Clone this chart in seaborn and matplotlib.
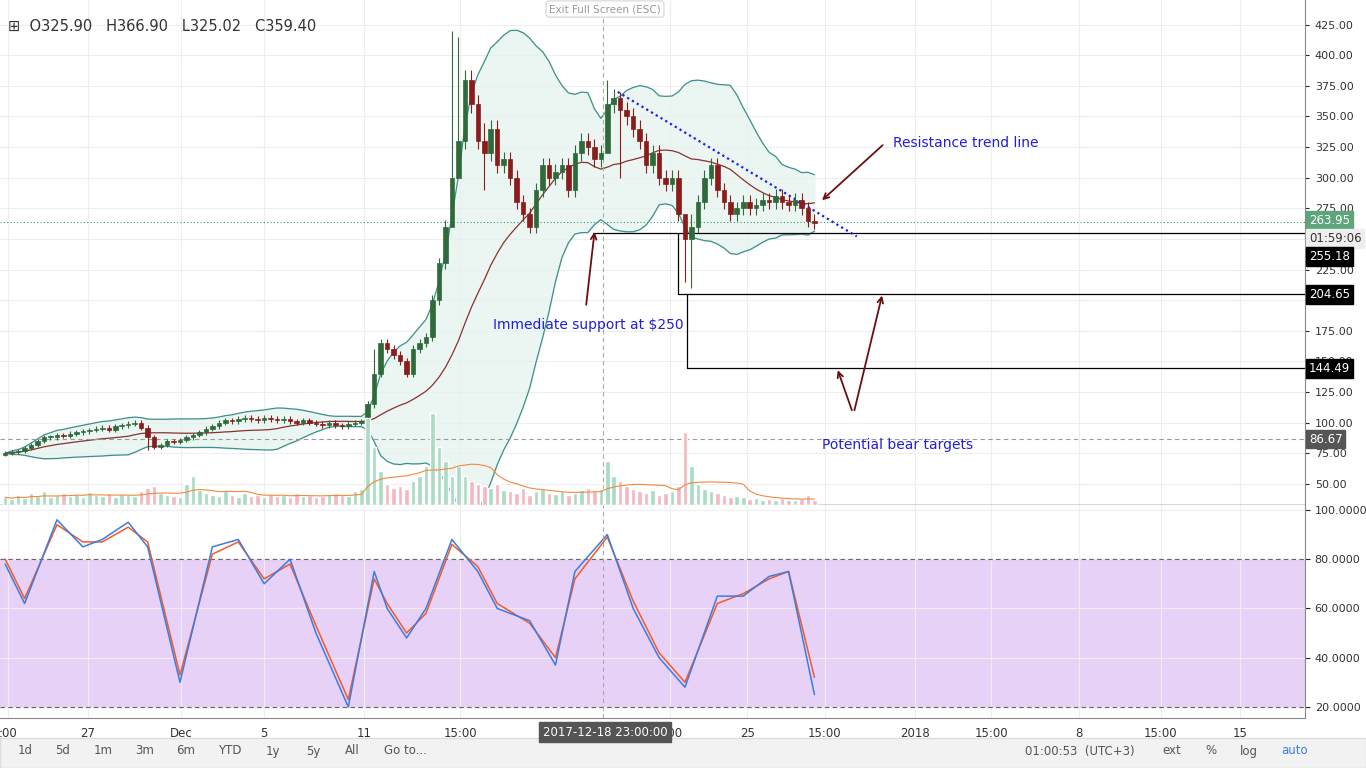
import matplotlib
matplotlib.use("Agg")
import matplotlib.pyplot as plt
import numpy as np
import pandas as pd
import seaborn as sns

sns.set_style("white")
plt.rcParams['font.family'] = ['DejaVu Sans']

# closing prices, one per 4h candle
closes = [75, 76, 77, 79, 82, 85, 88, 88, 90, 89, 91, 92, 93, 94, 95, 96, 94, 97, 98, 99, 100, 96, 88,
          80, 82, 85, 84, 86,
          88, 90, 92, 95, 97, 100, 102, 101, 103, 104, 103, 102, 104, 103, 102, 103, 101, 100, 102, 100, 99, 98, 100,
          98, 97, 99, 100, 101,
          115, 140, 165, 160, 155, 150, 140, 160, 165,
          170, 200, 230, 260, 300, 330,
          380, 360, 330, 320, 340,
          310, 315, 300, 280, 270, 260, 290, 310, 300, 305,
          310, 290, 320, 330, 325, 315, 320, 360, 365, 355,
          350, 340, 330, 310, 320, 300, 295, 300, 270, 250,
          260, 280, 300, 310, 290, 280, 270, 275,
          280, 275, 278, 282, 280, 285, 280, 278, 282, 275, 265, 263]
first_open = 74
# notable wick extremes {slot: (high, low)}
wicks = {69: (420, 290), 70: (415, 300), 74: (345, 290), 93: (380, 330), 95: (370, 300),
         105: (265, 215), 106: (270, 210), 57: (160, 112), 22: (98, 78)}
volumes = [8, 6, 10, 7, 12, 9, 14, 8, 10, 12, 9, 11, 8, 13, 10, 9, 12, 8, 11, 10, 9, 14, 18,
           20, 12, 10, 9, 8,
           22, 30, 15, 12, 10, 9, 14, 10, 8, 12, 9, 10, 8, 11, 9, 10, 8, 12, 9, 10, 8, 9, 11,
           12, 10, 9, 14, 16,
           90, 60, 35, 22, 18, 20, 16, 25, 30,
           40, 95, 60, 45, 30, 40,
           30, 25, 22, 20, 18,
           22, 15, 14, 12, 18, 10, 14, 16, 12, 11,
           14, 10, 12, 15, 18, 14, 16, 45, 30, 25,
           20, 16, 14, 12, 15, 10, 12, 14, 20, 75,
           40, 22, 16, 14, 12, 10, 8, 9,
           8, 6, 7, 5, 6, 5, 7, 5, 5, 6, 10, 5]
stoch_x = [0, 3, 8, 12, 15, 19, 22, 27, 32, 36, 40, 44, 48, 53, 57, 59, 62, 65, 69, 73, 76, 81,
           85, 88, 93, 97, 101, 105, 110, 114, 118, 121, 125]
stoch_k = [78, 62, 96, 85, 88, 95, 85, 30, 85, 88, 70, 80, 50, 20, 75, 60, 48, 60, 88, 75, 60, 55,
           37, 75, 90, 60, 40, 28, 65, 65, 73, 75, 25]
stoch_d = [80, 64, 94, 87, 87, 93, 87, 33, 82, 87, 72, 78, 53, 23, 72, 62, 50, 58, 86, 77, 62, 54,
           40, 72, 89, 63, 42, 30, 62, 66, 72, 75, 32]
tick_px = [8, 88, 182, 265, 365, 462, 672, 750, 828, 918, 995, 1083, 1165, 1245]
tick_lbl = [':00', '27', 'Dec', '5', '11', '15:00', '5:00', '25', '15:00', '2018', '15:00', '8', '15:00', '15']
levels = [255.18, 204.65, 144.49]

W, H = 1366, 768
SLOT = 6.5
PLOT_W = 1305
XMAX = PLOT_W / SLOT

def px2slot(px):
    return (px - 5) / SLOT

fig = plt.figure(figsize=(W / 100, H / 100), dpi=100)
ax = fig.add_axes([0, 1 - 505 / H, PLOT_W / W, 505 / H])
ax_s = fig.add_axes([0, 1 - 718 / H, PLOT_W / W, 213 / H])
ax_v = ax.twinx()

n = len(closes)
idx = np.arange(n)
opens = [first_open] + closes[:-1]
df = pd.DataFrame({'o': opens, 'c': closes, 'v': volumes})
df['hi'] = df[['o', 'c']].max(axis=1) * 1.02
df['lo'] = df[['o', 'c']].min(axis=1) * 0.98
for k, (h, l) in wicks.items():
    df.loc[k, 'hi'] = h
    df.loc[k, 'lo'] = l

# bollinger bands + basis
mid = df['c'].rolling(20, min_periods=1).mean()
sd = df['c'].rolling(20, min_periods=1).std().fillna(0)
up, dn = mid + 2 * sd, mid - 2 * sd
ax.fill_between(idx, dn, up, color='#e3f3ef', alpha=0.7, zorder=1)
ax.plot(idx, up, color='#3d8f8a', lw=0.9, zorder=2)
ax.plot(idx, dn, color='#3d8f8a', lw=0.9, zorder=2)
ax.plot(idx, mid, color='#8b3030', lw=0.9, zorder=2)

for i, r in df.iterrows():
    col = '#2f6b3a' if r['c'] >= r['o'] else '#8a1c1c'
    ax.vlines(i, r['lo'], r['hi'], color=col, lw=0.8, zorder=3)
    b = min(r['o'], r['c'])
    ax.bar(i, max(abs(r['c'] - r['o']), 1), bottom=b, width=0.7,
           color=col, edgecolor=col, lw=0.5, zorder=4)

vcol = ['#a9dcc3' if c >= o else '#f3b7c3' for o, c in zip(opens, closes)]
ax_v.bar(idx, volumes, width=0.7, color=vcol, zorder=0)
ax_v.plot(idx, df['v'].rolling(10, min_periods=1).mean(), color='#f08a3c', lw=0.8)
ax_v.set_ylim(0, 520)
ax_v.axis('off')

ax.set_xlim(-0.8, XMAX)
ax.set_ylim(32.8, 445)
ax.yaxis.tick_right()
ax.set_yticks(np.arange(50, 426, 25))
ax.set_yticklabels([f'{v:.2f}' for v in np.arange(50, 426, 25)], fontsize=8, color='#333333')
ax.tick_params(axis='y', length=3, pad=4)
ax.set_xticks([px2slot(p) for p in tick_px])
ax.set_xticklabels([])
ax.grid(True, color='#eeeeee', lw=0.8)
ax.set_axisbelow(True)
for s in ['top', 'left', 'bottom']:
    ax.spines[s].set_visible(False)
ax.spines['right'].set_color('#888888')
ax.axhline(32.8, color='#333333', lw=1)

# reference lines
ax.axhline(263.95, color='#2e9e5e', lw=0.8, ls=(0, (1, 2)))
ax.axhline(86.67, color='#999999', lw=0.8, ls=(0, (4, 3)))
ax.plot([px2slot(595), XMAX], [levels[0]] * 2, color='black', lw=0.9)
ax.plot([px2slot(680), XMAX], [levels[1]] * 2, color='black', lw=0.9)
ax.plot([px2slot(680)] * 2, [levels[0], levels[1]], color='black', lw=0.9)
ax.plot([px2slot(690), XMAX], [levels[2]] * 2, color='black', lw=0.9)
ax.plot([px2slot(690)] * 2, [levels[1], levels[2]], color='black', lw=0.9)
ax.plot([px2slot(620), px2slot(860)], [370, 252], color='#1f1fdd', lw=1.6, ls=(0, (1, 1.5)))
ax.axvline(px2slot(605), color='#aaaaaa', lw=0.8, ls=(0, (4, 3)))

arr = dict(arrowstyle='->', color='#6b0f0f', lw=1.3)
ax.annotate('', xy=(px2slot(823), 280), xytext=(px2slot(888), 328), arrowprops=arr)
ax.annotate('', xy=(px2slot(597), 258), xytext=(px2slot(588), 194), arrowprops=arr)
ax.annotate('', xy=(px2slot(886), 206), xytext=(px2slot(857), 108), arrowprops=arr)
ax.annotate('', xy=(px2slot(840), 145), xytext=(px2slot(856), 108), arrowprops=arr)
ax.text(px2slot(896), 328, 'Resistance trend line', color='#2020d0', fontsize=10, va='center')
ax.text(px2slot(495), 180, 'Immediate support at $250', color='#2020d0', fontsize=10, va='center')
ax.text(px2slot(825), 82, 'Potential bear targets', color='#2020d0', fontsize=10, va='center')

def tag(y, text, fc, tc='white'):
    ax.text(1.003, y, text, transform=ax.get_yaxis_transform(), fontsize=8.5, color=tc,
            va='center', ha='left', bbox=dict(boxstyle='square,pad=0.25', fc=fc, ec=fc))

tag(265, '263.95', '#5fa57c')
tag(250, '01:59:06', '#eeeeee', '#333333')
tag(236, '255.18', 'black')
tag(levels[1], '204.65', 'black')
tag(levels[2], '144.49', 'black')
tag(86.67, '86.67', '#555555')

fig.text(0.006, 1 - 26 / H, '⊞  O325.90   H366.90   L325.02   C359.40', fontsize=10.5, color='#333333', va='center')
fig.text(605 / W, 1 - 9 / H, 'Exit Full Screen (ESC)', fontsize=7.5, color='#999999', ha='center', va='center',
         bbox=dict(boxstyle='round,pad=0.3', fc='white', ec='#dddddd'))

# stochastic pane
ax_s.axhspan(20, 80, color='#e6ccf7', alpha=0.9, zorder=0)
ax_s.axhline(80, color='#666666', lw=0.8, ls=(0, (4, 3)))
ax_s.axhline(20, color='#666666', lw=0.8, ls=(0, (4, 3)))
sns.lineplot(x=stoch_x, y=stoch_d, ax=ax_s, color='#f25a2a', lw=1.1)
sns.lineplot(x=stoch_x, y=stoch_k, ax=ax_s, color='#3a7de0', lw=1.1)
ax_s.axvline(px2slot(605), color='#aaaaaa', lw=0.8, ls=(0, (4, 3)))
ax_s.set_xlim(-0.8, XMAX)
ax_s.set_ylim(15.5, 102)
ax_s.yaxis.tick_right()
ax_s.set_yticks([20, 40, 60, 80, 100])
ax_s.set_yticklabels(['20.0000', '40.0000', '60.0000', '80.0000', '100.0000'], fontsize=8, color='#333333')
ax_s.set_xticks([px2slot(p) for p in tick_px])
ax_s.set_xticklabels(tick_lbl, fontsize=8.5, color='#333333')
ax_s.tick_params(axis='x', length=3)
ax_s.grid(True, color='#eeeeee', lw=0.8)
ax_s.set_axisbelow(True)
for s in ['top', 'left']:
    ax_s.spines[s].set_visible(False)
ax_s.spines['right'].set_color('#888888')
ax_s.spines['bottom'].set_color('#888888')
fig.text(605 / W, 1 - 732 / H, '2017-12-18 23:00:00', fontsize=8.5, color='white', ha='center', va='center',
         bbox=dict(boxstyle='square,pad=0.3', fc='#555555', ec='#555555'))

# bottom toolbar
fig.patches.append(plt.Rectangle((0, 0), 1, 30 / H, transform=fig.transFigure, fc='#f2f2f2', ec='#dddddd'))
items = [('1d', 25), ('5d', 63), ('1m', 103), ('3m', 145), ('6m', 186), ('YTD', 230), ('1y', 273), ('5y', 313),
         ('All', 352), ('Go to...', 405)]
for t, x in items:
    fig.text(x / W, 1 - 751 / H, t, fontsize=8.5, color='#555555', ha='center', va='center')
for t, x in [('01:00:53  (UTC+3)', 1080), ('ext', 1172), ('%', 1211), ('log', 1249), ('auto', 1295)]:
    fig.text(x / W, 1 - 751 / H, t, fontsize=8.5, color='#3a7de0' if t == 'auto' else '#555555', ha='center', va='center')

fig.savefig('out.png', dpi=100)
